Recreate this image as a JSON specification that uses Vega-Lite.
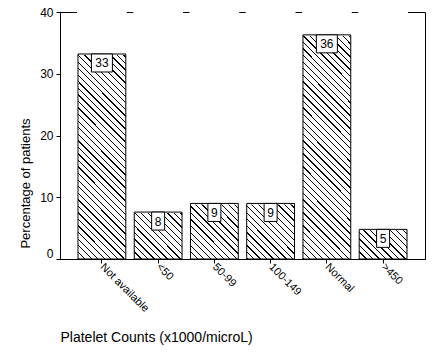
{
  "$schema": "https://vega.github.io/schema/vega-lite/v6.json",
  "width": 365,
  "height": 247,
  "autosize": "none",
  "padding": {"left": 60, "top": 12, "right": 14, "bottom": 93},
  "background": "white",
  "config": {
    "view": {"stroke": "black", "strokeWidth": 1},
    "font": "Liberation Sans",
    "axis": {"domainColor": "black", "tickColor": "black", "labelColor": "black", "titleColor": "black", "grid": false, "titleFontWeight": "normal"}
  },
  "data": {"values": [
    {"cat": "Not available", "pct": 33.2, "label": "33"},
    {"cat": "<50", "pct": 7.6, "label": "8"},
    {"cat": "50-99", "pct": 9.0, "label": "9"},
    {"cat": "100-149", "pct": 9.0, "label": "9"},
    {"cat": "Normal", "pct": 36.3, "label": "36"},
    {"cat": ">450", "pct": 4.8, "label": "5"}
  ]},
  "encoding": {
    "x": {
      "field": "cat", "type": "nominal", "sort": null,
      "scale": {"paddingInner": 0.15, "paddingOuter": 0.32},
      "axis": {
        "title": "Platelet Counts (x1000/microL)",
        "titleFontSize": 14, "titleAnchor": "start", "titleAlign": "left",
        "titleY": 82, "titleBaseline": "alphabetic",
        "labelAngle": 45, "labelAlign": "left", "labelBaseline": "middle",
        "labelFontSize": 11, "labelPadding": 2, "tickSize": 4
      }
    }
  },
  "layer": [
    {
      "mark": {"type": "bar", "stroke": null, "fill": {"gradient": "linear", "x1": 0, "y1": 1, "x2": 0.2237, "y2": -0.1509, "stops": [
        {"offset":0,"color":"#000"},{"offset":0.0044,"color":"#000"},{"offset":0.0044,"color":"#fff"},{"offset":0.0222,"color":"#fff"},
        {"offset":0.0222,"color":"#000"},{"offset":0.0266,"color":"#000"},{"offset":0.0266,"color":"#fff"},{"offset":0.0444,"color":"#fff"},
        {"offset":0.0444,"color":"#000"},{"offset":0.0488,"color":"#000"},{"offset":0.0488,"color":"#fff"},{"offset":0.0667,"color":"#fff"},
        {"offset":0.0667,"color":"#000"},{"offset":0.0711,"color":"#000"},{"offset":0.0711,"color":"#fff"},{"offset":0.0889,"color":"#fff"},
        {"offset":0.0889,"color":"#000"},{"offset":0.0933,"color":"#000"},{"offset":0.0933,"color":"#fff"},{"offset":0.1111,"color":"#fff"},
        {"offset":0.1111,"color":"#000"},{"offset":0.1155,"color":"#000"},{"offset":0.1155,"color":"#fff"},{"offset":0.1333,"color":"#fff"},
        {"offset":0.1333,"color":"#000"},{"offset":0.1377,"color":"#000"},{"offset":0.1377,"color":"#fff"},{"offset":0.1556,"color":"#fff"},
        {"offset":0.1556,"color":"#000"},{"offset":0.16,"color":"#000"},{"offset":0.16,"color":"#fff"},{"offset":0.1778,"color":"#fff"},
        {"offset":0.1778,"color":"#000"},{"offset":0.1822,"color":"#000"},{"offset":0.1822,"color":"#fff"},{"offset":0.2,"color":"#fff"},
        {"offset":0.2,"color":"#000"},{"offset":0.2044,"color":"#000"},{"offset":0.2044,"color":"#fff"},{"offset":0.2222,"color":"#fff"},
        {"offset":0.2222,"color":"#000"},{"offset":0.2266,"color":"#000"},{"offset":0.2266,"color":"#fff"},{"offset":0.2444,"color":"#fff"},
        {"offset":0.2444,"color":"#000"},{"offset":0.2488,"color":"#000"},{"offset":0.2488,"color":"#fff"},{"offset":0.2667,"color":"#fff"},
        {"offset":0.2667,"color":"#000"},{"offset":0.2711,"color":"#000"},{"offset":0.2711,"color":"#fff"},{"offset":0.2889,"color":"#fff"},
        {"offset":0.2889,"color":"#000"},{"offset":0.2933,"color":"#000"},{"offset":0.2933,"color":"#fff"},{"offset":0.3111,"color":"#fff"},
        {"offset":0.3111,"color":"#000"},{"offset":0.3155,"color":"#000"},{"offset":0.3155,"color":"#fff"},{"offset":0.3333,"color":"#fff"},
        {"offset":0.3333,"color":"#000"},{"offset":0.3377,"color":"#000"},{"offset":0.3377,"color":"#fff"},{"offset":0.3556,"color":"#fff"},
        {"offset":0.3556,"color":"#000"},{"offset":0.36,"color":"#000"},{"offset":0.36,"color":"#fff"},{"offset":0.3778,"color":"#fff"},
        {"offset":0.3778,"color":"#000"},{"offset":0.3822,"color":"#000"},{"offset":0.3822,"color":"#fff"},{"offset":0.4,"color":"#fff"},
        {"offset":0.4,"color":"#000"},{"offset":0.4044,"color":"#000"},{"offset":0.4044,"color":"#fff"},{"offset":0.4222,"color":"#fff"},
        {"offset":0.4222,"color":"#000"},{"offset":0.4266,"color":"#000"},{"offset":0.4266,"color":"#fff"},{"offset":0.4444,"color":"#fff"},
        {"offset":0.4444,"color":"#000"},{"offset":0.4488,"color":"#000"},{"offset":0.4488,"color":"#fff"},{"offset":0.4667,"color":"#fff"},
        {"offset":0.4667,"color":"#000"},{"offset":0.4711,"color":"#000"},{"offset":0.4711,"color":"#fff"},{"offset":0.4889,"color":"#fff"},
        {"offset":0.4889,"color":"#000"},{"offset":0.4933,"color":"#000"},{"offset":0.4933,"color":"#fff"},{"offset":0.5111,"color":"#fff"},
        {"offset":0.5111,"color":"#000"},{"offset":0.5155,"color":"#000"},{"offset":0.5155,"color":"#fff"},{"offset":0.5333,"color":"#fff"},
        {"offset":0.5333,"color":"#000"},{"offset":0.5377,"color":"#000"},{"offset":0.5377,"color":"#fff"},{"offset":0.5556,"color":"#fff"},
        {"offset":0.5556,"color":"#000"},{"offset":0.56,"color":"#000"},{"offset":0.56,"color":"#fff"},{"offset":0.5778,"color":"#fff"},
        {"offset":0.5778,"color":"#000"},{"offset":0.5822,"color":"#000"},{"offset":0.5822,"color":"#fff"},{"offset":0.6,"color":"#fff"},
        {"offset":0.6,"color":"#000"},{"offset":0.6044,"color":"#000"},{"offset":0.6044,"color":"#fff"},{"offset":0.6222,"color":"#fff"},
        {"offset":0.6222,"color":"#000"},{"offset":0.6266,"color":"#000"},{"offset":0.6266,"color":"#fff"},{"offset":0.6444,"color":"#fff"},
        {"offset":0.6444,"color":"#000"},{"offset":0.6488,"color":"#000"},{"offset":0.6488,"color":"#fff"},{"offset":0.6667,"color":"#fff"},
        {"offset":0.6667,"color":"#000"},{"offset":0.6711,"color":"#000"},{"offset":0.6711,"color":"#fff"},{"offset":0.6889,"color":"#fff"},
        {"offset":0.6889,"color":"#000"},{"offset":0.6933,"color":"#000"},{"offset":0.6933,"color":"#fff"},{"offset":0.7111,"color":"#fff"},
        {"offset":0.7111,"color":"#000"},{"offset":0.7155,"color":"#000"},{"offset":0.7155,"color":"#fff"},{"offset":0.7333,"color":"#fff"},
        {"offset":0.7333,"color":"#000"},{"offset":0.7377,"color":"#000"},{"offset":0.7377,"color":"#fff"},{"offset":0.7556,"color":"#fff"},
        {"offset":0.7556,"color":"#000"},{"offset":0.76,"color":"#000"},{"offset":0.76,"color":"#fff"},{"offset":0.7778,"color":"#fff"},
        {"offset":0.7778,"color":"#000"},{"offset":0.7822,"color":"#000"},{"offset":0.7822,"color":"#fff"},{"offset":0.8,"color":"#fff"},
        {"offset":0.8,"color":"#000"},{"offset":0.8044,"color":"#000"},{"offset":0.8044,"color":"#fff"},{"offset":0.8222,"color":"#fff"},
        {"offset":0.8222,"color":"#000"},{"offset":0.8266,"color":"#000"},{"offset":0.8266,"color":"#fff"},{"offset":0.8444,"color":"#fff"},
        {"offset":0.8444,"color":"#000"},{"offset":0.8488,"color":"#000"},{"offset":0.8488,"color":"#fff"},{"offset":0.8667,"color":"#fff"},
        {"offset":0.8667,"color":"#000"},{"offset":0.8711,"color":"#000"},{"offset":0.8711,"color":"#fff"},{"offset":0.8889,"color":"#fff"},
        {"offset":0.8889,"color":"#000"},{"offset":0.8933,"color":"#000"},{"offset":0.8933,"color":"#fff"},{"offset":0.9111,"color":"#fff"},
        {"offset":0.9111,"color":"#000"},{"offset":0.9155,"color":"#000"},{"offset":0.9155,"color":"#fff"},{"offset":0.9333,"color":"#fff"},
        {"offset":0.9333,"color":"#000"},{"offset":0.9377,"color":"#000"},{"offset":0.9377,"color":"#fff"},{"offset":0.9556,"color":"#fff"},
        {"offset":0.9556,"color":"#000"},{"offset":0.96,"color":"#000"},{"offset":0.96,"color":"#fff"},{"offset":0.9778,"color":"#fff"},
        {"offset":0.9778,"color":"#000"},{"offset":0.9822,"color":"#000"},{"offset":0.9822,"color":"#fff"},{"offset":1,"color":"#fff"}
      ]}},
      "encoding": {
        "y": {
          "datum": 40, "type": "quantitative",
          "scale": {"domain": [0, 40], "nice": false, "zero": true},
          "axis": {
            "title": "Percentage of patients", "titleFontSize": 13, "titleX": -35, "titleY": 171, "titleBaseline": "middle", "titleAlign": "center",
            "values": [0, 10, 20, 30, 40], "labelFontSize": 12, "labelPadding": 3, "tickSize": 4,
            "labelBaseline": "middle", "labelFlush": false,
            "labelOffset": {"condition": {"test": "datum.value == 0", "value": -6}, "value": 0}
          }
        },
        "y2": {"datum": 0}
      }
    },
    {
      "mark": {"type": "bar", "fill": "white", "stroke": "white", "strokeWidth": 2},
      "encoding": {
        "y": {"field": "pct", "type": "quantitative", "title": "Percentage of patients"},
        "y2": {"datum": 40}
      }
    },
    {
      "mark": {"type": "bar", "fill": "transparent", "stroke": "black", "strokeWidth": 1},
      "encoding": {
        "y": {"field": "pct", "type": "quantitative", "title": "Percentage of patients"},
        "y2": {"datum": 0}
      }
    },
    {
      "mark": {"type": "bar", "fill": "white", "stroke": "black", "strokeWidth": 1, "y2Offset": 18},
      "encoding": {
        "y": {"field": "pct", "type": "quantitative", "title": "Percentage of patients"},
        "y2": {"field": "pct"},
        "size": {"condition": {"test": "datum.pct >= 10", "value": 21}, "value": 13}
      }
    },
    {
      "mark": {"type": "text", "fontSize": 12, "baseline": "middle", "dy": 9.5, "color": "black"},
      "encoding": {
        "y": {"field": "pct", "type": "quantitative", "title": "Percentage of patients"},
        "text": {"field": "label"}
      }
    }
  ]
}
